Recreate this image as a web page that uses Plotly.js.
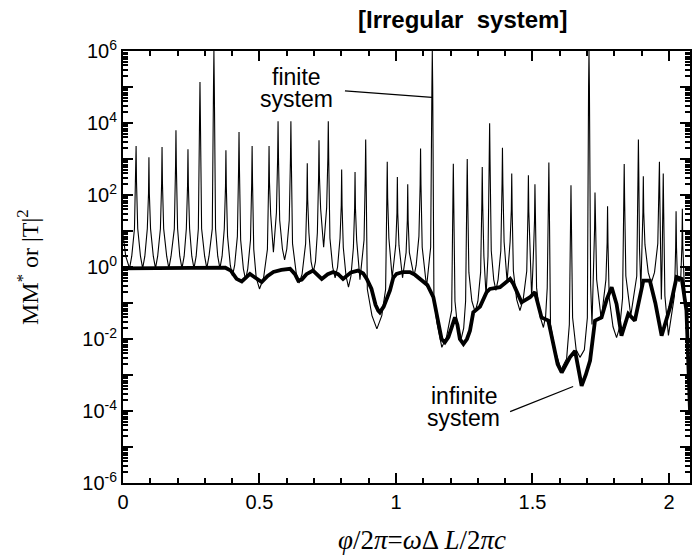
<!DOCTYPE html>
<html>
<head>
<meta charset="utf-8">
<script src="https://cdn.plot.ly/plotly-3.0.1.min.js"></script>
<style>
  html, body { margin: 0; padding: 0; background: #fff; }
  #chart { width: 692px; height: 558px; }
</style>
</head>
<body>
<div id="chart"></div>
<script>
// Finite system: MM* sampled around each resonance (x = phi/2pi, value as log10).
const finiteX = [
  0.000, 0.010, 0.024, 0.032,
  0.042, 0.0465, 0.048, 0.0495, 0.054, 0.064, 0.072, 0.080,
  0.089, 0.0935, 0.095, 0.0965, 0.101, 0.111, 0.119, 0.127,
  0.137, 0.1415, 0.143, 0.1445, 0.149, 0.160, 0.168, 0.176,
  0.188, 0.1925, 0.194, 0.1955, 0.200, 0.208, 0.216, 0.224,
  0.232, 0.2365, 0.238, 0.2395, 0.244, 0.252, 0.260, 0.268,
  0.276, 0.2805, 0.282, 0.2835, 0.288, 0.299, 0.307, 0.315,
  0.327, 0.3315, 0.333, 0.3345, 0.339, 0.347, 0.355, 0.363,
  0.371, 0.3755, 0.377, 0.3785, 0.383, 0.393, 0.401, 0.409,
  0.419, 0.4235, 0.425, 0.4265, 0.431, 0.441, 0.449, 0.457,
  0.467, 0.4715, 0.473, 0.4745, 0.479, 0.488, 0.500, 0.515,
  0.529, 0.5335, 0.535, 0.5365, 0.541, 0.551,
  0.562, 0.5665, 0.568, 0.5695, 0.574, 0.584, 0.592, 0.600,
  0.609, 0.6135, 0.615, 0.6165, 0.621, 0.635, 0.645, 0.656,
  0.669, 0.6735, 0.675, 0.6765, 0.681, 0.689, 0.697, 0.705,
  0.712, 0.7165, 0.718, 0.7195, 0.724, 0.735,
  0.746, 0.7505, 0.752, 0.7535, 0.758, 0.768, 0.777, 0.786,
  0.795, 0.7995, 0.801, 0.8025, 0.807, 0.817, 0.826, 0.835,
  0.844, 0.8485, 0.850, 0.8515, 0.856, 0.868,
  0.883, 0.8875, 0.889, 0.8905, 0.895, 0.912, 0.930, 0.948,
  0.962, 0.9665, 0.968, 0.9695, 0.974, 0.986,
  0.999, 1.0035, 1.005, 1.0065, 1.011, 1.024,
  1.037, 1.0415, 1.043, 1.0445, 1.049, 1.058, 1.066, 1.074,
  1.084, 1.0885, 1.090, 1.0915, 1.096, 1.112,
  1.127, 1.1315, 1.133, 1.1345, 1.139, 1.150, 1.168, 1.185,
  1.204, 1.2085, 1.210, 1.2115, 1.216, 1.226, 1.237, 1.248,
  1.255, 1.2595, 1.261, 1.2625, 1.267, 1.278, 1.290, 1.300,
  1.310, 1.3145, 1.316, 1.3175, 1.322, 1.330,
  1.337, 1.3415, 1.343, 1.3445, 1.349, 1.358, 1.366, 1.374,
  1.384, 1.3885, 1.390, 1.3915, 1.396, 1.407,
  1.418, 1.4225, 1.424, 1.4255, 1.430, 1.442, 1.454, 1.466,
  1.479, 1.4835, 1.485, 1.4865, 1.491, 1.497,
  1.503, 1.5075, 1.509, 1.5105, 1.515, 1.528, 1.540, 1.548,
  1.554, 1.5585, 1.560, 1.5615, 1.566, 1.582, 1.605, 1.625,
  1.635, 1.6395, 1.641, 1.6425, 1.647, 1.660, 1.674, 1.690,
  1.701, 1.7055, 1.707, 1.7085, 1.713, 1.718,
  1.723, 1.7275, 1.729, 1.7305, 1.735, 1.752,
  1.769, 1.7735, 1.775, 1.7765, 1.781, 1.795, 1.808, 1.820,
  1.830, 1.8345, 1.836, 1.8375, 1.842, 1.860,
  1.882, 1.8865, 1.888, 1.8895, 1.892, 1.897,
  1.902, 1.9045, 1.906, 1.9075, 1.912, 1.924, 1.935, 1.947,
  1.959, 1.9635, 1.965, 1.9665, 1.969, 1.972,
  1.975, 1.9775, 1.979, 1.9805, 1.985, 1.998,
  2.020, 2.0245, 2.026, 2.0275, 2.031, 2.037,
  2.043, 2.0475, 2.049, 2.0505, 2.055, 2.064, 2.077
];
const finiteLog = [
  0.90, 0.30, -0.04, 0.30,
  1.06, 2.36, 3.36, 2.36, 1.06, 0.30, -0.04, 0.30,
  1.06, 2.05, 3.05, 2.05, 1.06, 0.30, -0.04, 0.30,
  1.06, 2.33, 3.33, 2.33, 1.06, 0.30, -0.04, 0.30,
  1.06, 2.80, 3.80, 2.80, 1.06, 0.30, -0.04, 0.30,
  1.06, 2.27, 3.27, 2.27, 1.06, 0.30, -0.04, 0.30,
  1.06, 4.14, 5.14, 4.14, 1.06, 0.30, -0.04, 0.30,
  1.06, 5.00, 6.00, 5.00, 1.06, 0.30, -0.04, 0.30,
  1.06, 2.24, 3.24, 2.24, 0.85, 0.05, -0.25, 0.05,
  0.85, 2.75, 3.75, 2.75, 0.75, -0.05, -0.35, -0.05,
  0.75, 2.36, 3.36, 2.36, 0.49, -0.30, -0.61, -0.30,
  0.49, 2.36, 3.36, 2.36, 1.46, 0.41,
  1.51, 3.05, 4.05, 3.05, 1.30, 0.50, 0.20, 0.50,
  1.30, 3.05, 4.05, 3.05, 0.65, -0.20, -0.45, -0.20,
  0.65, 1.88, 2.88, 1.88, 0.95, 0.15, -0.15, 0.15,
  0.95, 2.52, 3.52, 2.52, 1.62, 0.55,
  1.65, 3.05, 4.05, 3.05, 0.80, 0.00, -0.30, 0.00,
  0.80, 1.71, 2.71, 1.71, 0.54, -0.25, -0.56, -0.25,
  0.54, 1.64, 2.64, 1.64, 0.74, -0.35,
  0.75, 2.54, 3.54, 2.54, -0.62, -1.35, -1.72, -1.35,
  -0.62, 1.92, 2.92, 1.92, 0.80, -0.30,
  0.60, 1.50, 2.50, 1.50, 0.60, -0.30,
  0.40, 1.30, 2.30, 1.30, 0.40, 0.05, -0.25, 0.05,
  0.85, 2.29, 3.29, 2.29, 0.55, -0.55,
  0.55, 5.00, 6.00, 5.00, -0.90, -1.55, -2.23, -1.95,
  -1.20, 1.87, 2.87, 1.87, -0.95, -1.70, -2.05, -1.70,
  -0.95, 2.00, 3.00, 2.00, -0.15, -0.95, -1.25, -0.95,
  -0.15, 1.78, 2.78, 1.78, 0.30, -0.80,
  0.30, 2.99, 3.99, 2.99, 0.45, -0.35, -0.65, -0.35,
  0.45, 2.31, 3.31, 2.31, 0.70, -0.40,
  0.70, 1.60, 2.60, 1.60, -0.11, -0.90, -1.21, -0.90,
  -0.11, 1.55, 2.55, 1.55, 0.25, -0.85,
  0.25, 1.30, 2.30, 1.30, -0.58, -1.38, -1.68, -1.38,
  -0.58, 1.90, 2.90, 1.90, -1.60, -2.30, -2.85, -2.55,
  -1.60, 1.27, 2.27, 1.27, -1.41, -2.30, -2.51, -2.30,
  -1.41, 5.00, 6.00, 5.00, -0.50, -1.60,
  -0.50, 1.07, 2.07, 1.07, -0.35, -1.45,
  -0.35, 0.69, 1.69, 0.69, -0.86, -1.66, -1.96, -1.66,
  -0.86, 1.86, 2.86, 1.86, -0.25, -1.35,
  -0.25, 2.54, 3.54, 2.54, 0.50, -0.60,
  0.50, 1.52, 2.52, 1.52, 0.62, -0.15, -0.45, -0.15,
  0.65, 1.92, 2.92, 1.92, 0.20, -0.90,
  0.20, 1.60, 2.60, 1.60, -0.80, -1.90,
  -0.80, 0.55, 1.55, 0.55, -0.35, -0.40,
  -0.35, 0.62, 1.62, 0.62, -0.30, -1.25, -4.00
];

// Infinite system: |T|^2 (log10).
const infiniteX = [
  0.000, 0.355, 0.375, 0.395, 0.416, 0.435, 0.450, 0.465, 0.485, 0.508,
  0.530, 0.551, 0.580, 0.612, 0.630, 0.642, 0.655, 0.672, 0.696, 0.712,
  0.728, 0.750, 0.770, 0.788, 0.806, 0.835, 0.861, 0.880, 0.893, 0.910,
  0.925, 0.935, 0.941, 0.955, 0.978, 0.990, 1.002, 1.025, 1.051, 1.070,
  1.088, 1.115, 1.137, 1.150, 1.161, 1.167, 1.179, 1.192, 1.204, 1.216,
  1.225, 1.234, 1.247, 1.260, 1.271, 1.283, 1.308, 1.332, 1.344, 1.381,
  1.418, 1.430, 1.460, 1.491, 1.509, 1.533, 1.558, 1.576, 1.592, 1.607,
  1.622, 1.637, 1.656, 1.668, 1.680, 1.695, 1.711, 1.729, 1.753, 1.772,
  1.790, 1.808, 1.826, 1.851, 1.875, 1.906, 1.930, 1.950, 1.973, 2.004,
  2.028, 2.047, 2.064, 2.077
];
const infiniteLog = [
  -0.04, -0.04, -0.02, -0.10, -0.33, -0.40, -0.30, -0.19, -0.30, -0.42,
  -0.25, -0.14, -0.08, -0.05, -0.20, -0.38, -0.35, -0.20, -0.10, -0.20,
  -0.33, -0.20, -0.14, -0.20, -0.33, -0.15, -0.10, -0.18, -0.33, -0.60,
  -1.05, -1.21, -1.26, -1.10, -0.65, -0.30, -0.19, -0.14, -0.14, -0.22,
  -0.33, -0.50, -0.84, -1.30, -1.77, -2.00, -2.09, -1.95, -1.68, -1.40,
  -1.60, -2.00, -2.14, -2.00, -1.77, -1.26, -1.10, -0.70, -0.61, -0.56,
  -0.33, -0.47, -0.98, -0.84, -0.70, -1.40, -1.49, -2.14, -2.70, -2.93,
  -2.70, -2.51, -2.33, -2.80, -3.30, -3.00, -2.60, -1.49, -1.40, -0.90,
  -0.56, -1.03, -1.91, -1.30, -1.49, -0.38, -0.38, -1.00, -1.91, -1.12,
  -0.28, -0.33, -1.21, -4.00
];

// Axis ticks
const xRange = [0, 2.077];
const yRange = [-6, 6];
const xTickVals = [0, 0.5, 1, 1.5, 2];
const xTickText = ['0', '0.5', '1', '1.5', '2'];
const yTickVals = [1e-6, 1e-5, 1e-4, 1e-3, 1e-2, 1e-1, 1e0, 1e1, 1e2, 1e3, 1e4, 1e5, 1e6];
const yTickText = ['10<sup>-6</sup>', '', '10<sup>-4</sup>', '', '10<sup>-2</sup>', '',
                   '10<sup>0</sup>', '', '10<sup>2</sup>', '', '10<sup>4</sup>', '', '10<sup>6</sup>'];

const toValue = v => Math.pow(10, v);

const sans = 'Liberation Sans, Arial, Helvetica, sans-serif';
const serif = 'Liberation Serif, Times New Roman, serif';

const traces = [
  {
    x: finiteX, y: finiteLog.map(toValue),
    type: 'scatter', mode: 'lines', name: 'finite system',
    line: { color: '#000', width: 1.1 }
  },
  {
    x: infiniteX, y: infiniteLog.map(toValue),
    type: 'scatter', mode: 'lines', name: 'infinite system',
    line: { color: '#000', width: 3.8 }
  }
];

const layout = {
  width: 692, height: 558,
  margin: { l: 123, r: 2, t: 51, b: 75 },
  showlegend: false,
  xaxis: {
    range: xRange, showline: true, linecolor: '#000', linewidth: 2, mirror: 'ticks',
    ticks: 'inside', ticklen: 10, tickwidth: 2, tickcolor: '#000',
    showgrid: false, zeroline: false,
    tickmode: 'array', tickvals: xTickVals, ticktext: xTickText,
    tickfont: { family: sans, size: 20, color: '#000' },
    minor: { ticks: 'inside', ticklen: 5, dtick: 0.1, tickcolor: '#000' }
  },
  yaxis: {
    type: 'log', range: yRange, showline: true, linecolor: '#000', linewidth: 2, mirror: 'ticks',
    ticks: 'inside', ticklen: 10, tickwidth: 2, tickcolor: '#000',
    showgrid: false, zeroline: false,
    tickmode: 'array', tickvals: yTickVals, ticktext: yTickText,
    tickfont: { family: sans, size: 20, color: '#000' },
    minor: { ticks: 'inside', ticklen: 5, dtick: 'D1', tickcolor: '#000' }
  },
  shapes: [
    { type: 'line', xref: 'x', yref: 'y', x0: 0.813, y0: toValue(4.89), x1: 1.132, y1: toValue(4.71),
      line: { color: '#000', width: 1.3 } },
    { type: 'line', xref: 'x', yref: 'y', x0: 1.418, y0: toValue(-4.02), x1: 1.649, y1: toValue(-3.32),
      line: { color: '#000', width: 1.3 } }
  ],
  annotations: [
    { xref: 'paper', yref: 'paper', x: (462 - 123) / 567, y: (483 - 20) / 432,
      xanchor: 'center', yanchor: 'middle', showarrow: false,
      text: '<b>[Irregular  system]</b>',
      font: { family: sans, size: 24, color: '#000' } },
    { xref: 'x', yref: 'y', x: 0.637, y: 5.28, text: 'finite', showarrow: false, borderpad: 0,
      font: { family: sans, size: 23, color: '#000' } },
    { xref: 'x', yref: 'y', x: 0.637, y: 4.66, text: 'system', showarrow: false, borderpad: 0,
      font: { family: sans, size: 23, color: '#000' } },
    { xref: 'x', yref: 'y', x: 1.249, y: -3.58, text: 'infinite', showarrow: false, borderpad: 0,
      font: { family: sans, size: 23, color: '#000' } },
    { xref: 'x', yref: 'y', x: 1.249, y: -4.20, text: 'system', showarrow: false, borderpad: 0,
      font: { family: sans, size: 23, color: '#000' } },
    { xref: 'paper', yref: 'paper', x: (422 - 123) / 567, y: -0.132,
      xanchor: 'center', yanchor: 'middle', showarrow: false,
      text: '<i>φ</i>/2<i>π</i>=<i>ω</i>Δ <i>L</i>/2<i>πc</i>',
      font: { family: serif, size: 27, color: '#000' } },
    { xref: 'paper', yref: 'paper', x: (28 - 123) / 567, y: 0.5,
      xanchor: 'center', yanchor: 'middle', showarrow: false, textangle: -90,
      text: 'MM<sup>*</sup> or |T|<sup>2</sup>',
      font: { family: serif, size: 24, color: '#000' } }
  ]
};

Plotly.newPlot('chart', traces, layout, { staticPlot: true });
</script>
</body>
</html>
